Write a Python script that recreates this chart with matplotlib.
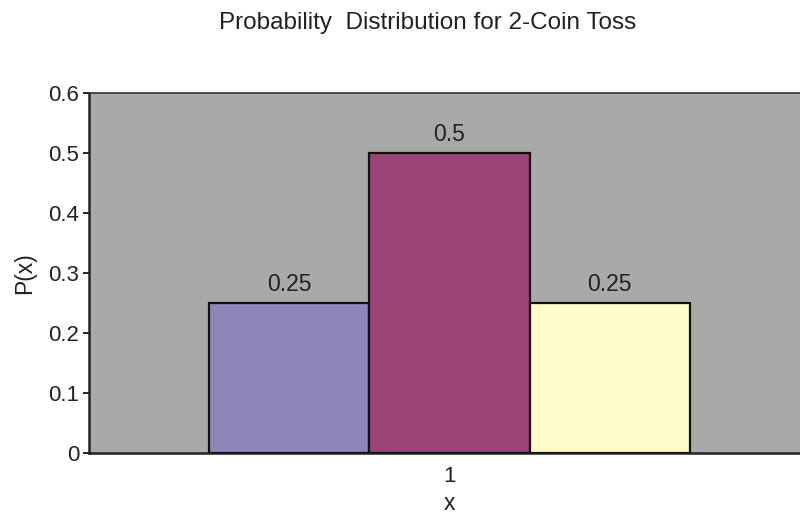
import numpy as np
import matplotlib.pyplot as plt

plt.rcParams['font.family'] = ['Liberation Sans', 'DejaVu Sans']

# data
categories = ['1']
series_values = [0.25, 0.5, 0.25]
value_labels = ['0.25', '0.5', '0.25']
series_colors = ['#8E86B9', '#9A4478', '#FFFBC9']
yticks = [0, 0.1, 0.2, 0.3, 0.4, 0.5, 0.6]
ytick_labels = ['0', '0.1', '0.2', '0.3', '0.4', '0.5', '0.6']

fig = plt.figure(figsize=(8, 5.17), dpi=100)
# plot area runs off the right edge like the original
ax = fig.add_axes([89/800, 64/517, 721/800, 360/517])
ax.set_facecolor('#A9A9A9')

width = 0.222
x = np.arange(len(categories))
for i, v in enumerate(series_values):
    off = (i - 1) * width
    ax.bar(x + off, v, width, color=series_colors[i], edgecolor='#111111', linewidth=1.6, zorder=3)
    ax.text(x[0] + off, v + 0.011, value_labels[i], ha='center', va='bottom', fontsize=16.5, color='#222222')

ax.set_xlim(-0.5, 0.5)
ax.set_ylim(0, 0.6)
ax.set_yticks(yticks)
ax.set_yticklabels(ytick_labels, fontsize=16, color='#222222')
ax.set_xticks(x)
ax.set_xticklabels(categories, fontsize=16, color='#222222')
ax.tick_params(axis='y', length=4, width=1.2, pad=3, direction='out')
ax.tick_params(axis='x', length=0, pad=9)

for s in ['left', 'top', 'bottom']:
    ax.spines[s].set_linewidth(1.8)
    ax.spines[s].set_color('#222222')
ax.spines['right'].set_visible(False)
ax.spines['top'].set_color('#333333')
ax.spines['top'].set_linewidth(1.2)

ax.set_ylabel('P(x)', fontsize=16.5, color='#222222', labelpad=9)
ax.set_xlabel('x', fontsize=16.5, color='#222222', labelpad=4)

fig.text(428/800, 1 - 23/517, 'Probability  Distribution for 2-Coin Toss', ha='center', va='center',
         fontsize=17.5, color='#222222')

fig.savefig('out.png', dpi=100)
